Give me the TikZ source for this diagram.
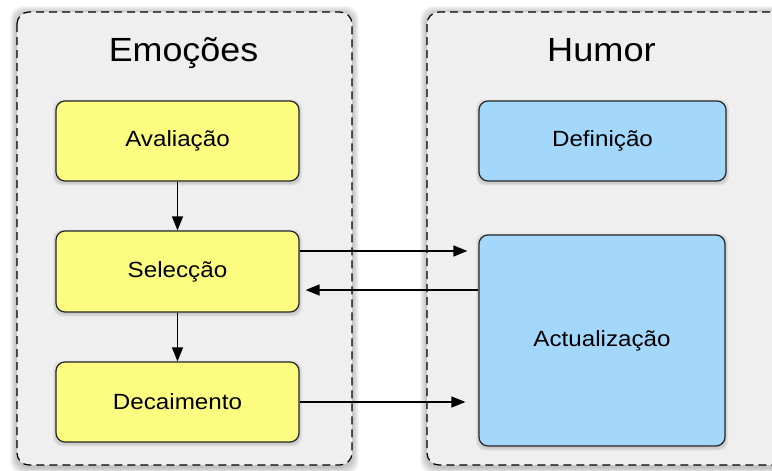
\documentclass[tikz,border=0pt]{standalone}
\usepackage{graphicx}
\usepackage{fontspec}
\setmainfont{Liberation Sans}
\usetikzlibrary{arrows.meta,calc}
\definecolor{panelgray}{HTML}{EFEFEF}
\definecolor{emoyellow}{HTML}{FBFC80}
\definecolor{humblue}{HTML}{A3D8FC}
\definecolor{edgegray}{HTML}{262626}
\newcommand{\widetext}[2]{\scalebox{#1}[1]{#2}}
\tikzset{
  panel/.style={draw=black, fill=panelgray, line width=1.2pt,
    dash pattern=on 8pt off 5pt, rounded corners=12pt},
  stagebox/.style={draw=edgegray, line width=1.2pt, rounded corners=9pt,
    font=\fontsize{22}{26}\selectfont, inner sep=0pt},
  emobox/.style={stagebox, fill=emoyellow, minimum width=243pt, minimum height=80pt},
  humbox/.style={stagebox, fill=humblue, minimum width=247pt, minimum height=80pt},
  paneltitle/.style={font=\fontsize{33.5}{38}\selectfont, inner sep=0pt, anchor=base},
  flow/.style={line width=1.3pt, -{Triangle[length=14pt,width=11pt]}}
}
\begin{document}
\begin{tikzpicture}[x=1pt, y=-1pt]
\useasboundingbox (0,0) rectangle (772,471);
\fill[white] (0,0) rectangle (772,471);
\clip (0,0) rectangle (772,471);

% soft shadows around the two panels
\foreach \s in {1,...,7} {
  \fill[black, opacity=0.035, rounded corners=12pt]
    (17-\s, 13-\s) rectangle (352+\s, 467+\s);
  \fill[black, opacity=0.035, rounded corners=12pt]
    (427-\s, 13-\s) rectangle (790+\s, 467+\s);
}
\draw[panel] (17,12) rectangle (352,465);
\draw[panel] (427,12) rectangle (790,465);

\node[paneltitle] (temo) at (183.5,61.5) {\widetext{1.07}{Emoções}};
\node[paneltitle] (thum) at (601.5,61.5) {\widetext{1.08}{Humor}};

% light shadows under the boxes
\foreach \x/\y/\w/\h in {56/101/243/80, 56/231/243/81, 56/362/243/80, 479/101/247/80, 479/235/246/211} {
  \foreach \s in {1,2,3} {
    \fill[black, opacity=0.05, rounded corners=9pt]
      (\x-\s, \y-\s+1.5) rectangle (\x+\w+\s, \y+\h+\s+1.5);
  }
}

\node[emobox] (aval) at (177.5,141) {\widetext{1.1}{Avaliação}};
\node[emobox, minimum height=81pt] (sel) at (177.5,271.5) {\widetext{1.1}{Selecção}};
\node[emobox] (dec) at (177.5,402) {\widetext{1.1}{Decaimento}};
\node[humbox] (def) at (602.5,141) {\widetext{1.1}{Definição}};
\node[humbox, minimum width=246pt, minimum height=211pt] (act) at (602,340.5) {\widetext{1.1}{Actualização}};

\draw[flow] (aval) -- (sel);
\draw[flow] (sel) -- (dec);

\coordinate (selout) at ($(sel.east)+(0,-20.5)$);
\coordinate (selin) at ($(sel.east)+(0,18.5)$);
\draw[flow, shorten >=11pt] (selout) -- (selout -| act.west);
\draw[flow, shorten >=6pt] (selin -| act.west) -- (selin);
\draw[flow, shorten >=13pt] (dec.east) -- (dec.east -| act.west);
\end{tikzpicture}
\end{document}
